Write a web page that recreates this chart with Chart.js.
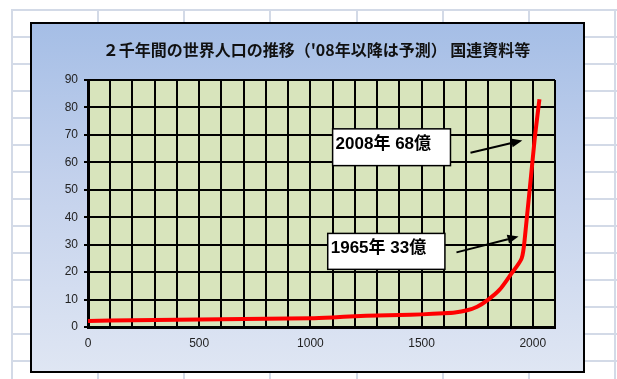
<!DOCTYPE html>
<html lang="ja">
<head>
<meta charset="utf-8">
<script src="https://cdn.jsdelivr.net/npm/chart.js@4/dist/chart.umd.min.js"></script>
<style>
  html, body { margin: 0; padding: 0; background: #ffffff; }
  body { width: 617px; height: 379px; position: relative; overflow: hidden; }
  /* worksheet cell grid behind the chart */
  #sheet {
    position: absolute; left: 11px; top: 9px; right: 0; bottom: 0;
    background-image:
      repeating-linear-gradient(to right, #d3dae7 0, #d3dae7 2px, transparent 2px, transparent 86.15px),
      repeating-linear-gradient(to bottom, #d3dae7 0, #d3dae7 2px, transparent 2px, transparent 27px);
  }
  #frame {
    position: absolute; left: 30px; top: 22px; width: 555px; height: 351px;
    box-sizing: border-box; border: 2px solid #000;
    background: linear-gradient(to bottom, #a5bee6 0%, #c3d1ec 45%, #dfe6f3 100%);
  }
  #frame canvas { display: block; }
</style>
</head>
<body>
<div id="sheet"></div>
<div id="frame"><canvas id="chart" width="551" height="347"></canvas></div>
<script>
// World population (units: 100 million people) by year
const years = [0, 200, 400, 600, 800, 1000, 1100, 1200, 1300, 1400, 1500, 1600, 1650, 1700, 1750, 1800, 1850, 1900, 1950, 1965, 2008, 2030];
const population = [2.2, 2.5, 2.6, 2.8, 3.0, 3.2, 3.5, 3.9, 4.2, 4.4, 4.6, 5.0, 5.3, 6.0, 7.4, 10.0, 13.5, 19.0, 25, 33, 68, 83];

const yTicks = [0, 10, 20, 30, 40, 50, 60, 70, 80, 90];
const xLabelTicks = [0, 500, 1000, 1500, 2000];

const titleText = "２千年間の世界人口の推移（'08年以降は予測） 国連資料等";

// Callout notes: year and value they describe
const noteYears = [2008, 1965];
const noteValues = [68, 33];
const noteLabels = ["2008年 68億", "1965年 33億"];

// Placement of each callout box and arrow, in axis units
const notePlacement = [
  { box: [1100, 72.2, 1630, 58.8], from: [1720, 63.5], tipShift: -55 },
  { box: [1078, 34.1, 1605, 21.0], from: [1657, 27.2], tipShift: -29 }
];

const plotBackground = {
  id: 'plotBackground',
  beforeDraw(chart) {
    const { ctx, chartArea: a } = chart;
    ctx.save();
    ctx.fillStyle = '#d8e4bc';
    ctx.fillRect(a.left, a.top, a.right - a.left, a.bottom - a.top);
    ctx.restore();
  }
};

const chartTitle = {
  id: 'chartTitle',
  afterDraw(chart) {
    const { ctx, chartArea: a } = chart;
    ctx.save();
    ctx.font = 'bold 16px "Noto Sans CJK JP", sans-serif';
    ctx.fillStyle = '#111';
    ctx.textAlign = 'center';
    ctx.textBaseline = 'middle';
    ctx.fillText(titleText, (a.left + a.right) / 2 - 5, 26);
    ctx.restore();
  }
};

const callouts = {
  id: 'callouts',
  afterDatasetsDraw(chart) {
    const { ctx, scales: { x, y } } = chart;
    ctx.save();
    noteLabels.forEach((label, i) => {
      const p = notePlacement[i];
      const l = x.getPixelForValue(p.box[0]), t = y.getPixelForValue(p.box[1]);
      const r = x.getPixelForValue(p.box[2]), b = y.getPixelForValue(p.box[3]);
      ctx.fillStyle = '#ffffff';
      ctx.fillRect(l, t, r - l, b - t);
      ctx.strokeStyle = '#000';
      ctx.lineWidth = 1.5;
      ctx.strokeRect(l, t, r - l, b - t);
      ctx.fillStyle = '#000';
      ctx.font = 'bold 17px "Liberation Sans", "Noto Sans CJK JP", sans-serif';
      ctx.textAlign = 'left';
      ctx.textBaseline = 'middle';
      ctx.fillText(label, l + 3, (t + b) / 2 - 3);

      // arrow toward the curve at the stated value
      const x0 = x.getPixelForValue(p.from[0]), y0 = y.getPixelForValue(p.from[1]);
      const x1 = x.getPixelForValue(noteYears[i] + p.tipShift), y1 = y.getPixelForValue(noteValues[i]);
      const ang = Math.atan2(y1 - y0, x1 - x0);
      const head = 11, wing = 4.5;
      const bx = x1 - head * Math.cos(ang), by = y1 - head * Math.sin(ang);
      ctx.strokeStyle = '#000';
      ctx.lineWidth = 2;
      ctx.beginPath();
      ctx.moveTo(x0, y0);
      ctx.lineTo(bx, by);
      ctx.stroke();
      ctx.beginPath();
      ctx.moveTo(x1, y1);
      ctx.lineTo(bx - wing * Math.sin(ang), by + wing * Math.cos(ang));
      ctx.lineTo(bx + wing * Math.sin(ang), by - wing * Math.cos(ang));
      ctx.closePath();
      ctx.fill();
    });
    ctx.restore();
  }
};

const points = years.map((yr, i) => ({ x: yr, y: population[i] }));

new Chart(document.getElementById('chart'), {
  type: 'line',
  data: {
    datasets: [{
      data: points,
      borderColor: '#ff0000',
      borderWidth: 4,
      pointRadius: 0,
      tension: 0.25,
      fill: false
    }]
  },
  options: {
    responsive: false,
    animation: false,
    devicePixelRatio: 1,
    layout: { padding: { top: 56, right: 28, bottom: 0, left: 0 } },
    plugins: { legend: { display: false }, tooltip: { enabled: false }, title: { display: false } },
    scales: {
      x: {
        type: 'linear', min: 0, max: 2100,
        afterBuildTicks(scale) {
          const t = [];
          for (let v = 0; v <= 2100; v += 100) t.push({ value: v });
          scale.ticks = t;
        },
        afterFit(scale) { scale.height = 44; },
        ticks: {
          autoSkip: false, maxRotation: 0, padding: 9,
          color: '#222', font: { family: '"Liberation Sans", Arial, sans-serif', size: 12 },
          callback: (v) => xLabelTicks.includes(v) ? String(v) : ''
        },
        grid: { color: '#000', lineWidth: 2, drawTicks: false },
        border: { display: true, color: '#000', width: 3 }
      },
      y: {
        min: 0, max: 90,
        afterBuildTicks(scale) { scale.ticks = yTicks.map(v => ({ value: v })); },
        afterFit(scale) { scale.width = 56; },
        ticks: {
          padding: 6,
          color: '#222', font: { family: '"Liberation Sans", Arial, sans-serif', size: 12 }
        },
        grid: { color: '#000', lineWidth: 2, tickLength: 4 },
        border: { display: true, color: '#000', width: 3 }
      }
    }
  },
  plugins: [plotBackground, chartTitle, callouts]
});
</script>
</body>
</html>
